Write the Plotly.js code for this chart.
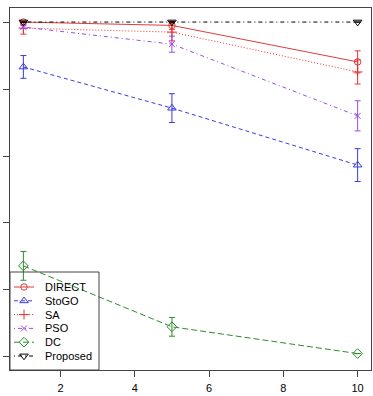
<!DOCTYPE html>
<html>
<head>
<meta charset="utf-8">
<script src="https://cdn.plot.ly/plotly-3.0.1.min.js"></script>
<style>html,body{margin:0;padding:0;background:#fff;}#chart{width:373px;height:396px;}</style>
</head>
<body>
<div id="chart"></div>
<script>
const xVals = [1, 5, 10];
const seriesNames = ["DIRECT", "StoGO", "SA", "PSO", "DC", "Proposed"];
const directVals = [1.0, 0.99, 0.881];
const directErr = [0, 0.012, 0.033];
const stogoVals = [0.866, 0.743, 0.573];
const stogoErr = [0.034, 0.043, 0.049];
const saVals = [0.982, 0.97, 0.851];
const saErr = [0.018, 0.026, 0.036];
const psoVals = [0.985, 0.934, 0.72];
const psoErr = [0.004, 0.024, 0.045];
const dcVals = [0.272, 0.09, 0.01];
const dcErr = [0.043, 0.028, 0];
const proposedVals = [1.0, 1.0, 1.0];
const proposedErr = [0, 0, 0];
const xTicks = [2, 4, 6, 8, 10];
const yTicks = [0, 0.2, 0.4, 0.6, 0.8, 1.0];

const styles = [
  {color: "#DF3B3B", symbol: "circle-open", dash: "solid", size: 6.5},
  {color: "#3B3BDF", symbol: "triangle-up-open", dash: "4px,3px", size: 7.5},
  {color: "#EE3030", symbol: "cross-thin-open", dash: "1px,2px", size: 7},
  {color: "#9A4CE8", symbol: "x-thin-open", dash: "1px,3px,4px,3px", size: 6},
  {color: "#2E8B2E", symbol: "diamond-open", dash: "6px,3px", size: 7.5},
  {color: "#000000", symbol: "triangle-down-open", dash: "1px,3px,4px,3px", size: 7.5}
];
const vals = [directVals, stogoVals, saVals, psoVals, dcVals, proposedVals];
const errs = [directErr, stogoErr, saErr, psoErr, dcErr, proposedErr];

const W = 373, H = 396, M = {l: 10, r: 2, t: 8, b: 26};
const pw = W - M.l - M.r, ph = H - M.t - M.b;
const px2x = p => (p - M.l) / pw;
const py2y = p => (H - M.b - p) / ph;

const traces = seriesNames.map((n, i) => ({
  type: "scatter", mode: "lines+markers", name: n, showlegend: false,
  x: xVals, y: vals[i],
  error_y: {type: "data", array: errs[i], visible: true, color: styles[i].color, thickness: 1, width: 3},
  line: {color: styles[i].color, width: 1, dash: styles[i].dash},
  marker: {symbol: styles[i].symbol, size: styles[i].size, color: styles[i].color, line: {width: 1, color: styles[i].color}}
}));

// manual legend (R-style compact legend) drawn on an overlay axis spanning the plot area
const annotations = [];
seriesNames.forEach((n, i) => {
  const yy = py2y(287 + i * 13.8);
  traces.push({
    type: "scatter", mode: "lines", xaxis: "x2", yaxis: "y2", showlegend: false, hoverinfo: "skip",
    x: [px2x(14), px2x(34)], y: [yy, yy],
    line: {color: styles[i].color, width: 1, dash: styles[i].dash}
  });
  traces.push({
    type: "scatter", mode: "markers", xaxis: "x2", yaxis: "y2", showlegend: false, hoverinfo: "skip",
    x: [px2x(24)], y: [yy],
    marker: {symbol: styles[i].symbol, size: styles[i].size, color: styles[i].color, line: {width: 1, color: styles[i].color}}
  });
  annotations.push({
    xref: "paper", yref: "paper", x: px2x(43), y: yy, xanchor: "left", yanchor: "middle",
    text: n, showarrow: false, font: {family: "Liberation Sans, Arial, sans-serif", size: 11, color: "#000"}
  });
});

const layout = {
  width: W, height: H,
  margin: M,
  paper_bgcolor: "#fff", plot_bgcolor: "#fff",
  showlegend: false,
  annotations: annotations,
  shapes: [{type: "rect", xref: "paper", yref: "paper", x0: 0, y0: 0, x1: px2x(99), y1: py2y(272),
    line: {color: "#444", width: 1}, fillcolor: "rgba(0,0,0,0)", layer: "above"}],
  xaxis: {range: [0.64, 10.36], tickvals: xTicks, ticktext: xTicks.map(String), ticks: "outside", ticklen: 6, tickcolor: "#444",
    showgrid: false, zeroline: false, showline: true, linecolor: "#444", mirror: true, ticklabelstandoff: 2,
    tickfont: {family: "Liberation Sans, Arial, sans-serif", size: 11, color: "#000"}},
  yaxis: {range: [-0.039, 1.042], tickvals: yTicks, showticklabels: false, ticks: "outside", ticklen: 6, tickcolor: "#444",
    showgrid: false, zeroline: false, showline: true, linecolor: "#444", mirror: true},
  xaxis2: {overlaying: "x", range: [0, 1], visible: false, fixedrange: true},
  yaxis2: {overlaying: "y", range: [0, 1], visible: false, fixedrange: true}
};
Plotly.newPlot("chart", traces, layout, {displayModeBar: false, staticPlot: true});
</script>
</body>
</html>
